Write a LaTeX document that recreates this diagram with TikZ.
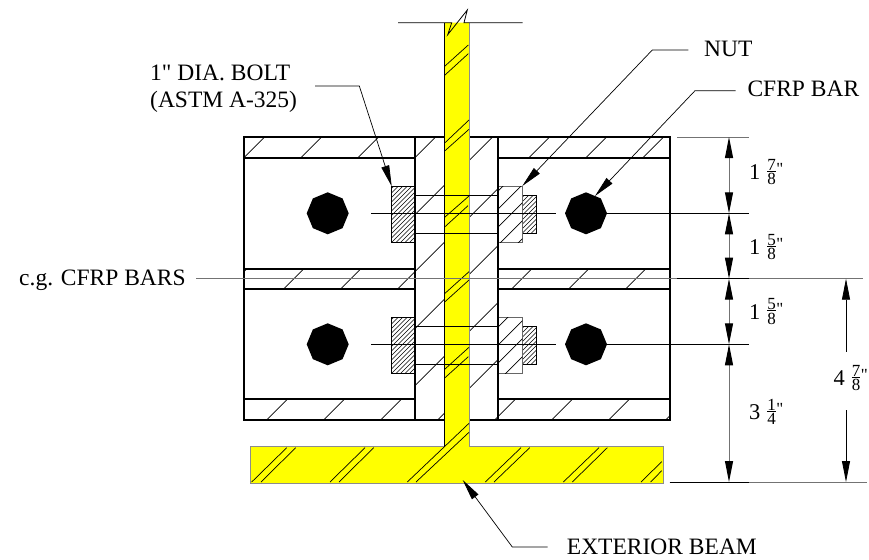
\documentclass[tikz,border=0pt]{standalone}
\usepackage{fontspec}
\setmainfont{Liberation Serif}[Ligatures=TeXOff]
\usetikzlibrary{arrows.meta}
\definecolor{webyellow}{RGB}{255,255,0}
\newcommand\stk[2]{\makebox[8.5pt][l]{\raisebox{9.3pt}{\makebox[8.5pt]{#1}}\hspace{-8.5pt}\raisebox{8.0pt}{\rule{8.5pt}{.6pt}}\hspace{-8.5pt}\raisebox{-5.2pt}{\makebox[8.5pt]{#2}}}}
\newcommand\dimtext[3]{{\fontsize{22.5}{22.5}\selectfont #1}\hspace{6.8pt}{\fontsize{17}{17}\selectfont\stk{#2}{#3}\hspace{.6pt}\raisebox{4.8pt}{"}}}
\tikzset{
 x=1pt,y=-1pt,
 thickline/.style={line width=1.7pt,black},
 thinline/.style={line width=.8pt,black},
 grayline/.style={line width=1pt,black!55},
 hatchline/.style={line width=.7pt,black},
 densehatch/.style={line width=.55pt,black},
 label/.style={inner sep=0pt,anchor=base west,font=\fontsize{23.5}{26}\selectfont},
 dimlabel/.style={inner sep=0pt,anchor=base west},
 dimarrow/.style={grayline,{Triangle[length=21pt,width=8pt,black]}-{Triangle[length=21pt,width=8pt,black]}},
 leader/.style={line width=.7pt,black,-{Triangle[length=21pt,width=8pt,black]}},
 barshape/.style={fill=black,draw=none},
}
\newcommand\hatch[8]{\begin{scope}\clip (#2,#3) rectangle (#4,#5);
\foreach \s in {#6,#7,...,#8} \draw[#1] ({\s-700},700) -- (\s,0);
\end{scope}}
\begin{document}
\begin{tikzpicture}
\useasboundingbox (0,0) rectangle (869,559);
% hatching of the channels and the gap
\hatch{hatchline}{244}{137}{415}{157.7}{401.7}{458.7}{1200}
\hatch{hatchline}{244}{268.7}{415}{289}{401.7}{458.7}{1200}
\hatch{hatchline}{244}{399.3}{415}{419.7}{401.7}{458.7}{1200}
\hatch{hatchline}{498}{137}{670}{157.7}{401.7}{458.7}{1200}
\hatch{hatchline}{498}{268.7}{670}{289}{401.7}{458.7}{1200}
\hatch{hatchline}{498}{399.3}{670}{419.7}{401.7}{458.7}{1200}
\hatch{hatchline}{415}{137}{498}{419.7}{401.7}{458.7}{1200}
% channel outlines
\draw[thickline] (244,137) rectangle (415,419.7);
\draw[thickline] (498,137) rectangle (670,419.7);
\draw[thickline] (415,137) -- (498,137) (415,419.7) -- (498,419.7);
\foreach \yy in {157.7,268.7,289,399.3} \draw[thickline] (244,\yy) -- (415,\yy) (498,\yy) -- (670,\yy);
% T beam
\path[fill=webyellow] (444.3,22.7) -- (469,22.7) -- (469,446.7) -- (663,446.7) -- (663,483) -- (250.7,483) -- (250.7,446.7) -- (444.3,446.7) -- cycle;
\draw[line width=.8pt,black!45] (469,22.7) -- (469,446.7) -- (663,446.7) -- (663,483) -- (250.7,483) -- (250.7,446.7) -- (444.3,446.7);
\draw[thinline] (444.3,22.7) -- (444.3,446.7);
% beam hatch pairs
\foreach \a/\b/\c/\d in {445/66/468.3/45,445/75/468.3/53.7,445/142.7/469/120,445/150.7/469/129.3,445/217/469/196,445/226.7/468/205.7,445/293.3/469/271.7,445/301.7/469/280,445/369/469/347.3,445/377.7/468.3/356.7,
 251.7/482/286.7/447.7,261/482/295.7/447.7,330/482/365/447.7,339/482/373.7/447.7,407.3/482/469/423.3,416/482/469/432.3,485.3/482/521/447.7,494/482/529.7/447.7,563.3/482/599/447.7,572.3/482/607.3/447.7,641/482/661.7/461.7,650.7/482/661.7/470.7}
 \draw[hatchline] (\a,\b) -- (\c,\d);
% break line at the top
\coordinate (breakl) at (398,22.7);
\coordinate (breakr) at (522.7,22.7);
\draw[thinline,line join=miter] (breakl) -- (451.7,22.7) -- (447.7,34.7) -- (467.3,10) -- (464,22.7) -- (breakr);
% plates, washers and nuts
\foreach \ss in {0,131}{
 \begin{scope}[shift={(0,\ss)}]
 \hatch{densehatch}{391.7}{186.3}{414.3}{242.7}{400}{404.5}{900}
 \draw[line width=.8pt,black] (391.7,186.3) rectangle (414.3,242.7);
 \hatch{densehatch}{522.3}{195.3}{536.7}{233.3}{400}{404.5}{900}
 \draw[line width=.8pt,black] (522.3,195.3) rectangle (536.7,233.3);
 \draw[line width=.9pt,black!60] (498,186) rectangle (522.3,242.3);
 \draw[thinline] (415,195.3) -- (498,195.3) (415,233.3) -- (498,233.3);
 \end{scope}}
\hatch{hatchline}{498}{186}{522.3}{242.3}{689}{707}{780}
\hatch{hatchline}{498}{317}{522.3}{373.3}{825}{843}{910}
\draw[thickline] (498,137) -- (498,419.7);
% CFRP bars
\foreach \cx/\cy in {327.7/213.3,586/213.3,327.7/344.3,586/344.3}
 \fill[barshape] (\cx,\cy) +(0:21) -- +(45:21) -- +(90:21) -- +(135:21) -- +(180:21) -- +(225:21) -- +(270:21) -- +(315:21) -- cycle;
% centre lines
\coordinate (d0) at (729,137);
\coordinate (d1) at (729,213.3);
\coordinate (d2) at (729,278.7);
\coordinate (d3) at (729,344.3);
\coordinate (d4) at (729,482);
\coordinate (e0) at (846,278.7);
\coordinate (e1) at (846,351.7);
\coordinate (e2) at (846,410);
\coordinate (e3) at (846,482);
\draw[thinline] (371,213.3) -- (556,213.3) (606,213.3) -- (749,213.3);
\draw[thinline] (371,344.3) -- (556,344.3) (606,344.3) -- (749,344.3);
\draw[grayline] (677,137) -- (749,137);
\draw[grayline] (196,278.7) -- (863,278.7);
\draw[thinline] (677,278.7) -- (749,278.7);
\draw[grayline] (669.7,482) -- (867,482);
\draw[thinline] (669.7,482) -- (749,482);
% dimensions
\draw[dimarrow] (d0) -- (d1);
\draw[dimarrow] (d1) -- (d2);
\draw[dimarrow] (d2) -- (d3);
\draw[dimarrow] (d3) -- (d4);
\draw[thinline,{Triangle[length=21pt,width=8pt,black]}-] (e0) -- (e1);
\draw[thinline,-{Triangle[length=21pt,width=8pt,black]}] (e2) -- (e3);
\node[dimlabel] (dima) at (749,179.3) {\dimtext{1}{7}{8}};
\node[dimlabel] (dimb) at (749,254.5) {\dimtext{1}{5}{8}};
\node[dimlabel] (dimc) at (749,319) {\dimtext{1}{5}{8}};
\node[dimlabel] (dimd) at (749,419.3) {\dimtext{3}{1}{4}};
\node[dimlabel] (dime) at (833.5,385.7) {\dimtext{4}{7}{8}};
% labels
\node[label] (bolta) at (150,81) {1" DIA. BOLT};
\node[label] (boltb) at (150,107.5) {(ASTM A-325)};
\node[label] (nut) at (704,56.7) {NUT};
\node[label] (bar) at (747.3,96) {CFRP BAR};
\node[label] (cg) at (19,285.7) {c.g. CFRP BARS};
\node[label] (ext) at (566.7,554) {EXTERIOR BEAM};
% leaders
\coordinate (boltstart) at (315,86);
\coordinate (boltknee) at (359.3,86);
\coordinate (boltend) at (391.7,186.3);
\coordinate (nutstart) at (688.3,50);
\coordinate (nutknee) at (652.3,50);
\coordinate (nutend) at (522.3,186);
\coordinate (barstart) at (735.7,90.7);
\coordinate (barknee) at (695,90.7);
\coordinate (barend) at (595,196);
\coordinate (extstart) at (547.7,547);
\coordinate (extknee) at (512.3,547);
\coordinate (extend) at (462.7,480);
\draw[leader] (boltstart) -- (boltknee) -- (boltend);
\draw[leader] (nutstart) -- (nutknee) -- (nutend);
\draw[leader] (barstart) -- (barknee) -- (barend);
\draw[leader] (extstart) -- (extknee) -- (extend);
\end{tikzpicture}
\end{document}
